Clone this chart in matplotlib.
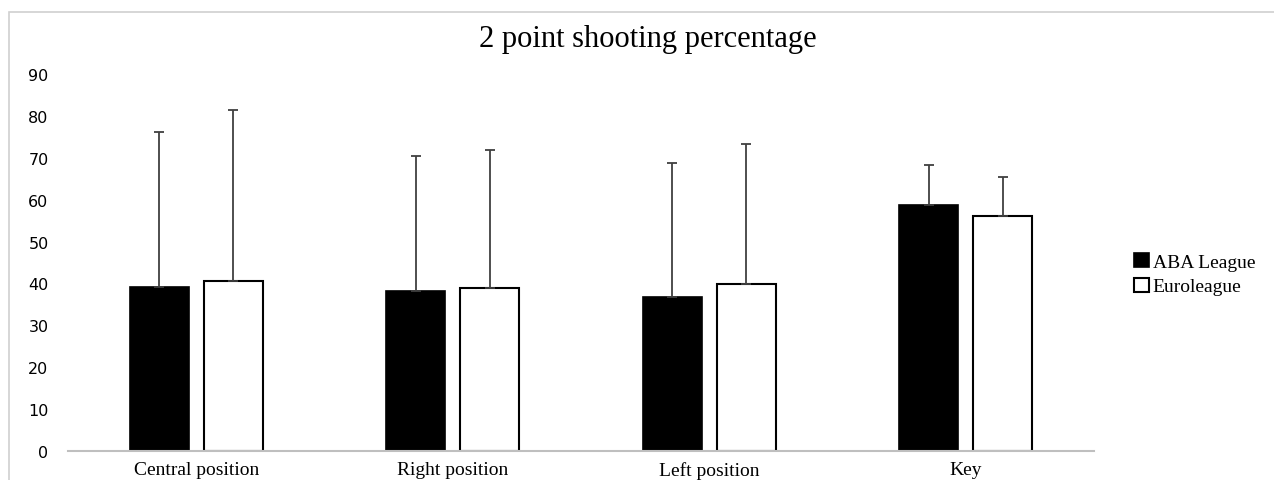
import numpy as np
import matplotlib.pyplot as plt
from matplotlib.patches import Rectangle

categories = ['Central position', 'Right position', 'Left position', 'Key']
aba_mean = [39.1, 38.1, 36.8, 58.7]
aba_err = [37.0, 32.4, 32.0, 9.6]
euro_mean = [40.7, 39.0, 39.9, 56.2]
euro_err = [40.7, 32.8, 33.5, 9.1]
series_names = ['ABA League', 'Euroleague']

serif = ['Liberation Serif', 'DejaVu Serif']

fig = plt.figure(figsize=(12.74, 4.81), dpi=100)
# light frame round the chart area
fig.patches.append(Rectangle((9 / 1274, -0.05), 1.2, 1 - 13 / 481 + 0.05,
                             transform=fig.transFigure, fill=False,
                             edgecolor='#d0d0d0', linewidth=1.2))

ax = fig.add_axes([68 / 1274, 1 - 452 / 481, (1094 - 68) / 1274, (452 - 75) / 481])

x = np.arange(len(categories))
w = 0.23
off = 0.145
err_kw = dict(ecolor='#404040', elinewidth=1.3, capsize=3.6, capthick=1.3)

ax.bar(x - off, aba_mean, w, color='black', edgecolor='black', linewidth=1.2,
       yerr=[np.zeros(4), aba_err], error_kw=err_kw, label=series_names[0], zorder=2)
ax.bar(x + off, euro_mean, w, color='white', edgecolor='black', linewidth=1.5,
       yerr=[np.zeros(4), euro_err], error_kw=err_kw, label=series_names[1], zorder=2)

ax.set_xlim(-0.5, len(categories) - 0.5)
ax.set_ylim(0, 90)
ax.set_yticks(range(0, 91, 10))
ax.set_xticks(x)
ax.set_xticklabels(categories, family=serif, fontsize=14)
ax.tick_params(axis='both', length=0)
ax.tick_params(axis='y', labelsize=11.5, pad=14)
ax.tick_params(axis='x', pad=7)
for s in ['top', 'right', 'left']:
    ax.spines[s].set_visible(False)
ax.spines['bottom'].set_color('#bfbfbf')
ax.spines['bottom'].set_linewidth(1.5)
ax.spines['bottom'].set_zorder(3)

fig.text(648 / 1274, 1 - 40 / 481, '2 point shooting percentage', family=serif,
         fontsize=22, ha='center', va='center')

leg = ax.legend(loc='center left', bbox_to_anchor=(1.022, 0.469), frameon=False,
                prop={'family': serif, 'size': 14}, handlelength=0.75,
                handleheight=0.75, handletextpad=0.2, labelspacing=0.35)

fig.savefig('out.png', dpi=100)
